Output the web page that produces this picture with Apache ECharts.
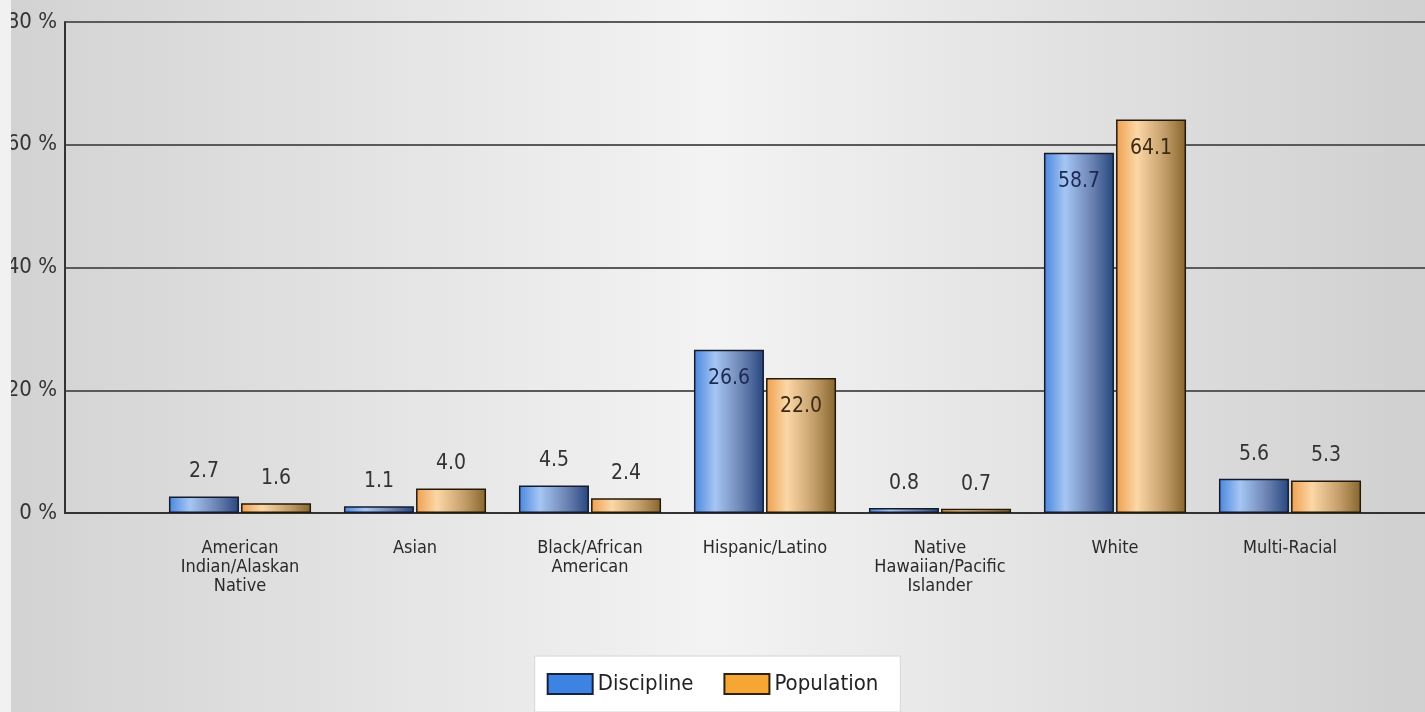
<!DOCTYPE html>
<html>
<head>
<meta charset="utf-8">
<script src="https://cdn.jsdelivr.net/npm/echarts@6/dist/echarts.min.js"></script>
<style>
  html, body { margin: 0; padding: 0; }
  #chart { width: 1425px; height: 712px; }
</style>
</head>
<body>
<div id="chart"></div>
<script type="text/javascript">

var categories = [
    '',
    'American\nIndian/Alaskan\nNative',
    'Asian',
    'Black/African\nAmerican',
    'Hispanic/Latino',
    'Native\nHawaiian/Pacific\nIslander',
    'White',
    'Multi-Racial',
    ''
];
var discipline = [null, 2.7, 1.1, 4.5, 26.6, 0.8, 58.7, 5.6, null];
var population = [null, 1.6, 4.0, 2.4, 22.0, 0.7, 64.1, 5.3, null];
var yTicks = [0, 20, 40, 60, 80];

var font = "'Liberation Sans Narrow', 'Arial Narrow', 'DejaVu Sans Condensed', sans-serif";

function hGrad(stops) {
    return {
        type: 'linear', x: 0, y: 0, x2: 1, y2: 0,
        colorStops: stops.map(function (s) { return { offset: s[0], color: s[1] }; })
    };
}

var blueFill = hGrad([[0, '#4a86de'], [0.3, '#a6c6f4'], [0.7, '#6880b0'], [1, '#27467e']]);
var orangeFill = hGrad([[0, '#eea050'], [0.3, '#fcd7a6'], [0.7, '#c29c68'], [1, '#86652c']]);

// big bars get their label inside, small ones on top
function makeData(values, insideColor) {
    return values.map(function (v) {
        if (v === null) return null;
        if (v > 15) {
            return { value: v, label: { position: 'insideTop', distance: 18, color: insideColor } };
        }
        return v;
    });
}

var option = {
    animation: false,
    backgroundColor: hGrad([[0, '#d2d2d2'], [0.5, '#f3f3f3'], [1, '#d0d0d0']]),
    textStyle: { fontFamily: font },
    grid: {
        left: 65,
        width: 1400,
        top: 22,
        bottom: 199,
        containLabel: false,
        outerBoundsMode: 'none'
    },
    legend: {
        bottom: 0,
        left: 'center',
        icon: 'rect',
        data: [
            { name: 'Discipline', itemStyle: { color: '#3d83e4', borderColor: '#17233d', borderWidth: 2 } },
            { name: 'Population', itemStyle: { color: '#f6a635', borderColor: '#2d2210', borderWidth: 2 } }
        ],
        itemWidth: 45,
        itemHeight: 20,
        itemGap: 30,
        padding: [17, 22, 17, 12],
        backgroundColor: '#ffffff',
        borderColor: '#d6d6d6',
        borderWidth: 1,
        textStyle: { fontFamily: font, fontSize: 22, color: '#222' }
    },
    xAxis: {
        type: 'category',
        data: categories,
        boundaryGap: false,
        axisLine: { lineStyle: { color: '#333', width: 2 } },
        axisTick: { show: false },
        axisLabel: {
            interval: 0,
            margin: 26,
            fontSize: 18,
            lineHeight: 19,
            color: '#2a2a2a',
            fontFamily: font
        },
        splitLine: { show: false }
    },
    yAxis: {
        type: 'value',
        min: yTicks[0],
        max: yTicks[yTicks.length - 1],
        interval: yTicks[1] - yTicks[0],
        axisLine: { show: true, lineStyle: { color: '#333', width: 2 } },
        axisTick: { show: false },
        axisLabel: {
            formatter: '{value} %',
            fontSize: 22,
            margin: 8,
            color: '#333',
            fontFamily: font
        },
        splitLine: { lineStyle: { color: '#5a5a5a', width: 2 } }
    },
    series: [
        {
            name: 'Discipline',
            type: 'bar',
            barWidth: 70,
            barGap: '3%',
            data: makeData(discipline, '#1b2a52'),
            itemStyle: { color: blueFill, borderColor: '#141c2c', borderWidth: 1.5 },
            label: {
                show: true,
                position: 'top',
                distance: 14,
                fontSize: 21,
                color: '#333',
                fontFamily: font,
                formatter: function (p) { return p.value.toFixed(1); }
            }
        },
        {
            name: 'Population',
            type: 'bar',
            barWidth: 70,
            barGap: '3%',
            data: makeData(population, '#3a2a16'),
            itemStyle: { color: orangeFill, borderColor: '#241a0c', borderWidth: 1.5 },
            label: {
                show: true,
                position: 'top',
                distance: 14,
                fontSize: 21,
                color: '#333',
                fontFamily: font,
                formatter: function (p) { return p.value.toFixed(1); }
            }
        }
    ],
    graphic: [
        { type: 'rect', left: 0, top: 0, z: 100, shape: { width: 11, height: 712 }, style: { fill: '#f1f1f1' } }
    ]
};

var chart = echarts.init(document.getElementById('chart'));
chart.setOption(option);

</script>
</body>
</html>
